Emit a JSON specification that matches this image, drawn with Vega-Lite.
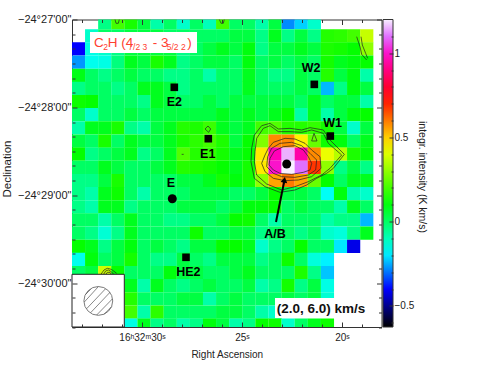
{"$schema":"https://vega.github.io/schema/vega-lite/v6.json","autosize":"none","width":309.5,"height":307.5,"padding":{"left":72,"top":19.5,"right":121.5,"bottom":40},"background":"white","config":{"view":{"stroke":"#333","strokeWidth":1},"font":"Liberation Sans","axis":{"labelFont":"Liberation Sans","titleFont":"Liberation Sans","labelColor":"#222","titleColor":"#222"}},"datasets":{"cells":[
{"c":2,"r":0,"v":-0.04},{"c":3,"r":0,"v":0.2},{"c":4,"r":0,"v":0.145},{"c":5,"r":0,"v":0.04},{"c":6,"r":0,"v":-0.08},{"c":7,"r":0,"v":0},{"c":8,"r":0,"v":-0.12},{"c":9,"r":0,"v":0},{"c":10,"r":0,"v":-0.1},{"c":11,"r":0,"v":0.2},{"c":12,"r":0,"v":0},{"c":13,"r":0,"v":0},{"c":14,"r":0,"v":-0.08},{"c":15,"r":0,"v":0.04},{"c":16,"r":0,"v":-0.28},{"c":17,"r":0,"v":-0.22},{"c":18,"r":0,"v":-0.12},
{"c":1,"r":1,"v":-0.12},{"c":2,"r":1,"v":0},{"c":3,"r":1,"v":0},{"c":4,"r":1,"v":0.04},{"c":5,"r":1,"v":0.04},{"c":6,"r":1,"v":0.04},{"c":7,"r":1,"v":0},{"c":8,"r":1,"v":0},{"c":9,"r":1,"v":0},{"c":10,"r":1,"v":0},{"c":11,"r":1,"v":0},{"c":12,"r":1,"v":0.04},{"c":13,"r":1,"v":0.04},{"c":14,"r":1,"v":-0.04},{"c":15,"r":1,"v":0.08},{"c":16,"r":1,"v":-0.04},{"c":17,"r":1,"v":0.04},{"c":18,"r":1,"v":-0.04},{"c":19,"r":1,"v":0.16},{"c":20,"r":1,"v":0.17},{"c":21,"r":1,"v":0.2},{"c":22,"r":1,"v":0.37},
{"c":0,"r":2,"v":-0.4},{"c":1,"r":2,"v":-0.15},{"c":2,"r":2,"v":-0.12},{"c":3,"r":2,"v":-0.04},{"c":4,"r":2,"v":0.04},{"c":5,"r":2,"v":0.04},{"c":6,"r":2,"v":0.04},{"c":7,"r":2,"v":0.04},{"c":8,"r":2,"v":-0.04},{"c":9,"r":2,"v":0},{"c":10,"r":2,"v":0.04},{"c":11,"r":2,"v":0.08},{"c":12,"r":2,"v":0.04},{"c":13,"r":2,"v":0.1},{"c":14,"r":2,"v":-0.04},{"c":15,"r":2,"v":0.04},{"c":16,"r":2,"v":0.04},{"c":17,"r":2,"v":0.08},{"c":18,"r":2,"v":0.04},{"c":19,"r":2,"v":0.15},{"c":20,"r":2,"v":0.14},{"c":21,"r":2,"v":0.12},{"c":22,"r":2,"v":0.3},
{"c":0,"r":3,"v":-0.27},{"c":1,"r":3,"v":-0.16},{"c":2,"r":3,"v":-0.15},{"c":3,"r":3,"v":-0.03},{"c":4,"r":3,"v":0.08},{"c":5,"r":3,"v":0.04},{"c":6,"r":3,"v":0.145},{"c":7,"r":3,"v":0.08},{"c":8,"r":3,"v":-0.04},{"c":9,"r":3,"v":0},{"c":10,"r":3,"v":0.04},{"c":11,"r":3,"v":0.04},{"c":12,"r":3,"v":0},{"c":13,"r":3,"v":0.1},{"c":14,"r":3,"v":0},{"c":15,"r":3,"v":0.04},{"c":16,"r":3,"v":0},{"c":17,"r":3,"v":0.04},{"c":18,"r":3,"v":0},{"c":19,"r":3,"v":0.14},{"c":20,"r":3,"v":0.08},{"c":21,"r":3,"v":0.1},{"c":22,"r":3,"v":0.12},
{"c":0,"r":4,"v":0.09},{"c":1,"r":4,"v":0},{"c":2,"r":4,"v":-0.04},{"c":3,"r":4,"v":0},{"c":4,"r":4,"v":0.04},{"c":5,"r":4,"v":0},{"c":6,"r":4,"v":0},{"c":7,"r":4,"v":-0.04},{"c":8,"r":4,"v":-0.04},{"c":9,"r":4,"v":0},{"c":10,"r":4,"v":-0.08},{"c":11,"r":4,"v":0},{"c":12,"r":4,"v":0},{"c":13,"r":4,"v":0.08},{"c":14,"r":4,"v":0},{"c":15,"r":4,"v":-0.04},{"c":16,"r":4,"v":-0.04},{"c":17,"r":4,"v":0.04},{"c":18,"r":4,"v":0},{"c":19,"r":4,"v":0.16},{"c":20,"r":4,"v":0.04},{"c":21,"r":4,"v":0.1},{"c":22,"r":4,"v":-0.08},
{"c":0,"r":5,"v":-0.04},{"c":1,"r":5,"v":0},{"c":2,"r":5,"v":0},{"c":3,"r":5,"v":-0.04},{"c":4,"r":5,"v":0},{"c":5,"r":5,"v":0.08},{"c":6,"r":5,"v":0.08},{"c":7,"r":5,"v":0.04},{"c":8,"r":5,"v":-0.04},{"c":9,"r":5,"v":0},{"c":10,"r":5,"v":0},{"c":11,"r":5,"v":0},{"c":12,"r":5,"v":0},{"c":13,"r":5,"v":0.08},{"c":14,"r":5,"v":0},{"c":15,"r":5,"v":0},{"c":16,"r":5,"v":0},{"c":17,"r":5,"v":0.04},{"c":18,"r":5,"v":0},{"c":19,"r":5,"v":-0.24},{"c":20,"r":5,"v":-0.04},{"c":21,"r":5,"v":0.1},{"c":22,"r":5,"v":0.04},
{"c":0,"r":6,"v":0.13},{"c":1,"r":6,"v":0.12},{"c":2,"r":6,"v":0},{"c":3,"r":6,"v":0},{"c":4,"r":6,"v":0},{"c":5,"r":6,"v":-0.04},{"c":6,"r":6,"v":0.08},{"c":7,"r":6,"v":0.04},{"c":8,"r":6,"v":0},{"c":9,"r":6,"v":0},{"c":10,"r":6,"v":0.04},{"c":11,"r":6,"v":0},{"c":12,"r":6,"v":0.04},{"c":13,"r":6,"v":0.04},{"c":14,"r":6,"v":0.04},{"c":15,"r":6,"v":0.04},{"c":16,"r":6,"v":0.04},{"c":17,"r":6,"v":0},{"c":18,"r":6,"v":0.08},{"c":19,"r":6,"v":0},{"c":20,"r":6,"v":0.04},{"c":21,"r":6,"v":0.04},{"c":22,"r":6,"v":-0.08},
{"c":0,"r":7,"v":0},{"c":1,"r":7,"v":-0.12},{"c":2,"r":7,"v":0},{"c":3,"r":7,"v":0},{"c":4,"r":7,"v":0.04},{"c":5,"r":7,"v":0},{"c":6,"r":7,"v":0.04},{"c":7,"r":7,"v":0.04},{"c":8,"r":7,"v":0.04},{"c":9,"r":7,"v":0.04},{"c":10,"r":7,"v":0.04},{"c":11,"r":7,"v":0.08},{"c":12,"r":7,"v":0.04},{"c":13,"r":7,"v":0.08},{"c":14,"r":7,"v":0.04},{"c":15,"r":7,"v":0.08},{"c":16,"r":7,"v":0.12},{"c":17,"r":7,"v":-0.08},{"c":18,"r":7,"v":0.08},{"c":19,"r":7,"v":-0.08},{"c":20,"r":7,"v":0.04},{"c":21,"r":7,"v":0.1},{"c":22,"r":7,"v":0.12},
{"c":0,"r":8,"v":-0.08},{"c":1,"r":8,"v":0.08},{"c":2,"r":8,"v":0.08},{"c":3,"r":8,"v":0.145},{"c":4,"r":8,"v":-0.04},{"c":5,"r":8,"v":-0.08},{"c":6,"r":8,"v":0.04},{"c":7,"r":8,"v":0.08},{"c":8,"r":8,"v":0.16},{"c":9,"r":8,"v":0.15},{"c":10,"r":8,"v":0.19},{"c":11,"r":8,"v":0.08},{"c":12,"r":8,"v":0.04},{"c":13,"r":8,"v":0.08},{"c":14,"r":8,"v":0.2},{"c":15,"r":8,"v":0.22},{"c":16,"r":8,"v":0.16},{"c":17,"r":8,"v":0.16},{"c":18,"r":8,"v":0.18},{"c":19,"r":8,"v":0.14},{"c":20,"r":8,"v":0.04},{"c":21,"r":8,"v":-0.12},{"c":22,"r":8,"v":0.04},
{"c":0,"r":9,"v":0.04},{"c":1,"r":9,"v":0},{"c":2,"r":9,"v":0.145},{"c":3,"r":9,"v":0},{"c":4,"r":9,"v":0.08},{"c":5,"r":9,"v":0.04},{"c":6,"r":9,"v":0.04},{"c":7,"r":9,"v":0.08},{"c":8,"r":9,"v":0.145},{"c":9,"r":9,"v":0.17},{"c":10,"r":9,"v":0.2},{"c":11,"r":9,"v":0.15},{"c":12,"r":9,"v":0.04},{"c":13,"r":9,"v":0.12},{"c":14,"r":9,"v":0.28},{"c":15,"r":9,"v":0.58},{"c":16,"r":9,"v":0.58},{"c":17,"r":9,"v":0.46},{"c":18,"r":9,"v":0.25},{"c":19,"r":9,"v":0.13},{"c":20,"r":9,"v":0.1},{"c":21,"r":9,"v":0},{"c":22,"r":9,"v":0.08},
{"c":0,"r":10,"v":0.12},{"c":1,"r":10,"v":-0.04},{"c":2,"r":10,"v":0},{"c":3,"r":10,"v":0.04},{"c":4,"r":10,"v":0.08},{"c":5,"r":10,"v":-0.04},{"c":6,"r":10,"v":0},{"c":7,"r":10,"v":0.08},{"c":8,"r":10,"v":0.22},{"c":9,"r":10,"v":0.16},{"c":10,"r":10,"v":0.18},{"c":11,"r":10,"v":0.14},{"c":12,"r":10,"v":0.08},{"c":13,"r":10,"v":0.12},{"c":14,"r":10,"v":0.47},{"c":15,"r":10,"v":0.97},{"c":16,"r":10,"v":1.15},{"c":17,"r":10,"v":0.95},{"c":18,"r":10,"v":0.58},{"c":19,"r":10,"v":0.42},{"c":20,"r":10,"v":0.35},{"c":21,"r":10,"v":0.15},{"c":22,"r":10,"v":0.1},
{"c":0,"r":11,"v":0},{"c":1,"r":11,"v":0},{"c":2,"r":11,"v":0.08},{"c":3,"r":11,"v":0.04},{"c":4,"r":11,"v":0},{"c":5,"r":11,"v":0},{"c":6,"r":11,"v":0.04},{"c":7,"r":11,"v":0.08},{"c":8,"r":11,"v":0.16},{"c":9,"r":11,"v":0.15},{"c":10,"r":11,"v":0.14},{"c":11,"r":11,"v":0.12},{"c":12,"r":11,"v":0.08},{"c":13,"r":11,"v":0.14},{"c":14,"r":11,"v":0.47},{"c":15,"r":11,"v":1},{"c":16,"r":11,"v":1.2},{"c":17,"r":11,"v":1.1},{"c":18,"r":11,"v":0.68},{"c":19,"r":11,"v":0.3},{"c":20,"r":11,"v":-0.04},{"c":21,"r":11,"v":0.04},{"c":22,"r":11,"v":-0.04},
{"c":0,"r":12,"v":-0.04},{"c":1,"r":12,"v":-0.04},{"c":2,"r":12,"v":0.04},{"c":3,"r":12,"v":0.145},{"c":4,"r":12,"v":0},{"c":5,"r":12,"v":0},{"c":6,"r":12,"v":0},{"c":7,"r":12,"v":0},{"c":8,"r":12,"v":0.04},{"c":9,"r":12,"v":0.04},{"c":10,"r":12,"v":0.08},{"c":11,"r":12,"v":0.14},{"c":12,"r":12,"v":0.1},{"c":13,"r":12,"v":0.14},{"c":14,"r":12,"v":0.3},{"c":15,"r":12,"v":0.55},{"c":16,"r":12,"v":0.6},{"c":17,"r":12,"v":0.55},{"c":18,"r":12,"v":0.25},{"c":19,"r":12,"v":0.12},{"c":20,"r":12,"v":0},{"c":21,"r":12,"v":0.08},{"c":22,"r":12,"v":0.08},
{"c":0,"r":13,"v":-0.04},{"c":1,"r":13,"v":-0.08},{"c":2,"r":13,"v":0.08},{"c":3,"r":13,"v":0.13},{"c":4,"r":13,"v":0},{"c":5,"r":13,"v":-0.08},{"c":6,"r":13,"v":0},{"c":7,"r":13,"v":0},{"c":8,"r":13,"v":0},{"c":9,"r":13,"v":0.04},{"c":10,"r":13,"v":0.04},{"c":11,"r":13,"v":0.04},{"c":12,"r":13,"v":0},{"c":13,"r":13,"v":0},{"c":14,"r":13,"v":0.04},{"c":15,"r":13,"v":0.12},{"c":16,"r":13,"v":0.04},{"c":17,"r":13,"v":0.04},{"c":18,"r":13,"v":0},{"c":19,"r":13,"v":-0.17},{"c":20,"r":13,"v":0.1},{"c":21,"r":13,"v":-0.08},{"c":22,"r":13,"v":-0.12},
{"c":0,"r":14,"v":-0.04},{"c":1,"r":14,"v":-0.08},{"c":2,"r":14,"v":0.08},{"c":3,"r":14,"v":0.08},{"c":4,"r":14,"v":-0.04},{"c":5,"r":14,"v":0},{"c":6,"r":14,"v":0},{"c":7,"r":14,"v":0},{"c":8,"r":14,"v":0.04},{"c":9,"r":14,"v":0.04},{"c":10,"r":14,"v":0.04},{"c":11,"r":14,"v":0},{"c":12,"r":14,"v":0.04},{"c":13,"r":14,"v":0.1},{"c":14,"r":14,"v":0.1},{"c":15,"r":14,"v":0.12},{"c":16,"r":14,"v":0},{"c":17,"r":14,"v":0.04},{"c":18,"r":14,"v":0},{"c":19,"r":14,"v":0},{"c":20,"r":14,"v":-0.08},{"c":21,"r":14,"v":0.08},{"c":22,"r":14,"v":0},
{"c":0,"r":15,"v":0},{"c":1,"r":15,"v":0},{"c":2,"r":15,"v":-0.08},{"c":3,"r":15,"v":0},{"c":4,"r":15,"v":0.08},{"c":5,"r":15,"v":0},{"c":6,"r":15,"v":0},{"c":7,"r":15,"v":-0.04},{"c":8,"r":15,"v":-0.04},{"c":9,"r":15,"v":0},{"c":10,"r":15,"v":0},{"c":11,"r":15,"v":0.04},{"c":12,"r":15,"v":0.12},{"c":13,"r":15,"v":0.13},{"c":14,"r":15,"v":0},{"c":15,"r":15,"v":-0.08},{"c":16,"r":15,"v":0},{"c":17,"r":15,"v":0},{"c":18,"r":15,"v":0},{"c":19,"r":15,"v":-0.08},{"c":20,"r":15,"v":-0.04},{"c":21,"r":15,"v":-0.04},{"c":22,"r":15,"v":-0.24},
{"c":0,"r":16,"v":0},{"c":1,"r":16,"v":-0.04},{"c":2,"r":16,"v":-0.13},{"c":3,"r":16,"v":-0.04},{"c":4,"r":16,"v":0.08},{"c":5,"r":16,"v":0},{"c":6,"r":16,"v":0},{"c":7,"r":16,"v":0},{"c":8,"r":16,"v":0},{"c":9,"r":16,"v":0.13},{"c":10,"r":16,"v":0},{"c":11,"r":16,"v":0},{"c":12,"r":16,"v":0.04},{"c":13,"r":16,"v":0.04},{"c":14,"r":16,"v":-0.04},{"c":15,"r":16,"v":0},{"c":16,"r":16,"v":0},{"c":17,"r":16,"v":-0.04},{"c":18,"r":16,"v":0},{"c":19,"r":16,"v":-0.12},{"c":20,"r":16,"v":-0.14},{"c":21,"r":16,"v":-0.04},{"c":22,"r":16,"v":0.08},
{"c":0,"r":17,"v":0.12},{"c":1,"r":17,"v":0.08},{"c":2,"r":17,"v":-0.04},{"c":3,"r":17,"v":0.04},{"c":4,"r":17,"v":0.1},{"c":5,"r":17,"v":0},{"c":6,"r":17,"v":0.04},{"c":7,"r":17,"v":0},{"c":8,"r":17,"v":-0.04},{"c":9,"r":17,"v":0.04},{"c":10,"r":17,"v":0.04},{"c":11,"r":17,"v":0.12},{"c":12,"r":17,"v":0.12},{"c":13,"r":17,"v":0.08},{"c":14,"r":17,"v":-0.12},{"c":15,"r":17,"v":-0.04},{"c":16,"r":17,"v":0},{"c":17,"r":17,"v":0.12},{"c":18,"r":17,"v":0},{"c":19,"r":17,"v":0},{"c":20,"r":17,"v":-0.2},{"c":21,"r":17,"v":-0.42},
{"c":0,"r":18,"v":-0.16},{"c":1,"r":18,"v":0.1},{"c":2,"r":18,"v":0},{"c":3,"r":18,"v":0.04},{"c":4,"r":18,"v":0.14},{"c":5,"r":18,"v":0},{"c":6,"r":18,"v":-0.04},{"c":7,"r":18,"v":-0.04},{"c":8,"r":18,"v":0.04},{"c":9,"r":18,"v":0},{"c":10,"r":18,"v":-0.04},{"c":11,"r":18,"v":0.04},{"c":12,"r":18,"v":0.04},{"c":13,"r":18,"v":0.04},{"c":14,"r":18,"v":-0.04},{"c":15,"r":18,"v":0},{"c":16,"r":18,"v":0.13},{"c":17,"r":18,"v":0},{"c":18,"r":18,"v":-0.14},{"c":19,"r":18,"v":-0.19},
{"c":0,"r":19,"v":0},{"c":1,"r":19,"v":0.04},{"c":2,"r":19,"v":0.38},{"c":3,"r":19,"v":0.12},{"c":4,"r":19,"v":0},{"c":5,"r":19,"v":0},{"c":6,"r":19,"v":0},{"c":7,"r":19,"v":0.1},{"c":8,"r":19,"v":0.04},{"c":9,"r":19,"v":0.04},{"c":10,"r":19,"v":0},{"c":11,"r":19,"v":0},{"c":12,"r":19,"v":0.04},{"c":13,"r":19,"v":0.08},{"c":14,"r":19,"v":0},{"c":15,"r":19,"v":0},{"c":16,"r":19,"v":0},{"c":17,"r":19,"v":0.15},{"c":18,"r":19,"v":-0.04},{"c":19,"r":19,"v":-0.23},
{"c":4,"r":20,"v":0.08},{"c":5,"r":20,"v":-0.08},{"c":6,"r":20,"v":0.08},{"c":7,"r":20,"v":0},{"c":8,"r":20,"v":-0.04},{"c":9,"r":20,"v":0},{"c":10,"r":20,"v":0.04},{"c":11,"r":20,"v":0},{"c":12,"r":20,"v":0},{"c":13,"r":20,"v":0.04},{"c":14,"r":20,"v":-0.08},{"c":15,"r":20,"v":-0.04},{"c":16,"r":20,"v":0.14},{"c":17,"r":20,"v":-0.04},{"c":18,"r":20,"v":0.04},{"c":19,"r":20,"v":-0.15},
{"c":4,"r":21,"v":0.16},{"c":5,"r":21,"v":0},{"c":6,"r":21,"v":0},{"c":7,"r":21,"v":0},{"c":8,"r":21,"v":0.04},{"c":9,"r":21,"v":0.04},{"c":10,"r":21,"v":-0.08},{"c":11,"r":21,"v":0},{"c":12,"r":21,"v":0.04},{"c":13,"r":21,"v":0},{"c":14,"r":21,"v":0},{"c":15,"r":21,"v":0},{"c":16,"r":21,"v":0.04},{"c":17,"r":21,"v":0},{"c":18,"r":21,"v":0.04},{"c":19,"r":21,"v":-0.13},
{"c":4,"r":22,"v":0.2},{"c":5,"r":22,"v":-0.08},{"c":6,"r":22,"v":0.17},{"c":7,"r":22,"v":0},{"c":8,"r":22,"v":0},{"c":9,"r":22,"v":0},{"c":10,"r":22,"v":0},{"c":11,"r":22,"v":0.04},{"c":12,"r":22,"v":0.04},{"c":13,"r":22,"v":0},{"c":14,"r":22,"v":-0.08},{"c":15,"r":22,"v":-0.12},
{"c":4,"r":23,"v":-0.15},{"c":5,"r":23,"v":0.08},{"c":6,"r":23,"v":-0.04},{"c":7,"r":23,"v":0},{"c":8,"r":23,"v":-0.08},{"c":9,"r":23,"v":-0.04},{"c":10,"r":23,"v":0.1},{"c":11,"r":23,"v":0.04},{"c":12,"r":23,"v":-0.08},{"c":13,"r":23,"v":-0.04},{"c":14,"r":23,"v":0.12},{"c":15,"r":23,"v":0.13},{"c":16,"r":23,"v":-0.12},{"c":17,"r":23,"v":0},{"c":18,"r":23,"v":0.08},{"c":19,"r":23,"v":0.13}
],"contours":[
{"g":"a","o":0,"ra":24.517,"dec":-87.98},{"g":"a","o":1,"ra":24.383,"dec":-78.88},{"g":"a","o":2,"ra":24.017,"dec":-72.5},{"g":"a","o":3,"ra":23.6,"dec":-70.91},{"g":"a","o":4,"ra":23.183,"dec":-74.78},{"g":"a","o":5,"ra":22.6,"dec":-74.33},{"g":"a","o":6,"ra":22.017,"dec":-75.46},{"g":"a","o":7,"ra":21.6,"dec":-73.87},{"g":"a","o":8,"ra":20.933,"dec":-75.46},{"g":"a","o":9,"ra":20.6,"dec":-82.29},{"g":"a","o":10,"ra":19.883,"dec":-92.08},{"g":"a","o":11,"ra":20.433,"dec":-101.64},{"g":"a","o":12,"ra":20.767,"dec":-105.06},{"g":"a","o":13,"ra":21.267,"dec":-108.47},{"g":"a","o":14,"ra":21.767,"dec":-113.02},{"g":"a","o":15,"ra":22.35,"dec":-116.44},{"g":"a","o":16,"ra":23.1,"dec":-118.03},{"g":"a","o":17,"ra":23.85,"dec":-114.16},{"g":"a","o":18,"ra":24.383,"dec":-108.47},{"g":"a","o":19,"ra":24.55,"dec":-97.09},{"g":"a","o":20,"ra":24.517,"dec":-87.98},
{"g":"b","o":0,"ra":24.35,"dec":-90.26},{"g":"b","o":1,"ra":24.267,"dec":-81.15},{"g":"b","o":2,"ra":23.933,"dec":-74.33},{"g":"b","o":3,"ra":23.6,"dec":-72.5},{"g":"b","o":4,"ra":23.183,"dec":-76.6},{"g":"b","o":5,"ra":22.6,"dec":-76.6},{"g":"b","o":6,"ra":22.017,"dec":-77.06},{"g":"b","o":7,"ra":21.517,"dec":-75.46},{"g":"b","o":8,"ra":20.933,"dec":-77.74},{"g":"b","o":9,"ra":20.683,"dec":-84.57},{"g":"b","o":10,"ra":20.017,"dec":-92.54},{"g":"b","o":11,"ra":20.6,"dec":-101.64},{"g":"b","o":12,"ra":21.017,"dec":-106.2},{"g":"b","o":13,"ra":21.683,"dec":-110.75},{"g":"b","o":14,"ra":22.35,"dec":-114.16},{"g":"b","o":15,"ra":23.017,"dec":-116.44},{"g":"b","o":16,"ra":23.767,"dec":-112.34},{"g":"b","o":17,"ra":24.267,"dec":-106.2},{"g":"b","o":18,"ra":24.383,"dec":-97.09},{"g":"b","o":19,"ra":24.35,"dec":-90.26},
{"g":"c","o":0,"ra":23.85,"dec":-92.54},{"g":"c","o":1,"ra":23.683,"dec":-87.98},{"g":"c","o":2,"ra":23.433,"dec":-83.89},{"g":"c","o":3,"ra":22.85,"dec":-81.15},{"g":"c","o":4,"ra":22.35,"dec":-81.61},{"g":"c","o":5,"ra":21.85,"dec":-84.57},{"g":"c","o":6,"ra":21.517,"dec":-89.12},{"g":"c","o":7,"ra":21.1,"dec":-93.68},{"g":"c","o":8,"ra":21.05,"dec":-101.64},{"g":"c","o":9,"ra":21.517,"dec":-107.33},{"g":"c","o":10,"ra":22.183,"dec":-109.61},{"g":"c","o":11,"ra":22.85,"dec":-110.06},{"g":"c","o":12,"ra":23.433,"dec":-108.47},{"g":"c","o":13,"ra":23.85,"dec":-103.92},{"g":"c","o":14,"ra":24.017,"dec":-98.23},{"g":"c","o":15,"ra":23.85,"dec":-92.54},
{"g":"d","o":0,"ra":23.717,"dec":-93.68},{"g":"d","o":1,"ra":23.517,"dec":-87.98},{"g":"d","o":2,"ra":23.1,"dec":-84.57},{"g":"d","o":3,"ra":22.517,"dec":-83.89},{"g":"d","o":4,"ra":22.017,"dec":-86.16},{"g":"d","o":5,"ra":21.6,"dec":-91.4},{"g":"d","o":6,"ra":21.267,"dec":-95.95},{"g":"d","o":7,"ra":21.317,"dec":-102.78},{"g":"d","o":8,"ra":21.683,"dec":-106.2},{"g":"d","o":9,"ra":22.35,"dec":-107.79},{"g":"d","o":10,"ra":23.017,"dec":-107.33},{"g":"d","o":11,"ra":23.433,"dec":-105.06},{"g":"d","o":12,"ra":23.767,"dec":-100.5},{"g":"d","o":13,"ra":23.717,"dec":-93.68},
{"g":"e","o":0,"ra":23.6,"dec":-94.81},{"g":"e","o":1,"ra":23.383,"dec":-89.8},{"g":"e","o":2,"ra":22.933,"dec":-86.85},{"g":"e","o":3,"ra":22.35,"dec":-86.16},{"g":"e","o":4,"ra":21.933,"dec":-89.12},{"g":"e","o":5,"ra":21.683,"dec":-93.68},{"g":"e","o":6,"ra":21.517,"dec":-98.23},{"g":"e","o":7,"ra":21.6,"dec":-102.78},{"g":"e","o":8,"ra":21.933,"dec":-104.37},{"g":"e","o":9,"ra":22.517,"dec":-105.74},{"g":"e","o":10,"ra":23.1,"dec":-105.06},{"g":"e","o":11,"ra":23.433,"dec":-102.78},{"g":"e","o":12,"ra":23.65,"dec":-99.37},{"g":"e","o":13,"ra":23.6,"dec":-94.81},
{"g":"f","o":0,"ra":21.4,"dec":-77.74},{"g":"f","o":1,"ra":21.517,"dec":-82.98},{"g":"f","o":2,"ra":21.25,"dec":-82.98},{"g":"f","o":3,"ra":21.4,"dec":-77.74},
{"g":"h","o":0,"ra":32.067,"dec":-174.26},{"g":"h","o":1,"ra":31.9,"dec":-171.07},{"g":"h","o":2,"ra":31.733,"dec":-169.93},{"g":"h","o":3,"ra":31.533,"dec":-170.61},{"g":"h","o":4,"ra":31.267,"dec":-173.35},
{"g":"i","o":0,"ra":31.933,"dec":-174.26},{"g":"i","o":1,"ra":31.817,"dec":-171.75},{"g":"i","o":2,"ra":31.683,"dec":-171.07},{"g":"i","o":3,"ra":31.533,"dec":-172.21},{"g":"i","o":4,"ra":31.4,"dec":-174.26},
{"g":"j","o":0,"ra":31.817,"dec":-174.26},{"g":"j","o":1,"ra":31.733,"dec":-172.66},{"g":"j","o":2,"ra":31.6,"dec":-172.66},{"g":"j","o":3,"ra":31.533,"dec":-174.26},
{"g":"k","o":0,"ra":19.267,"dec":-11.73},{"g":"k","o":1,"ra":19.1,"dec":-18.56},{"g":"k","o":2,"ra":19.017,"dec":-23.79},{"g":"k","o":3,"ra":18.767,"dec":-27.66},
{"g":"l","o":0,"ra":19.05,"dec":-11.73},{"g":"l","o":1,"ra":18.983,"dec":-17.42},{"g":"l","o":2,"ra":18.817,"dec":-23.11},{"g":"l","o":3,"ra":18.717,"dec":-26.52},
{"g":"m","o":0,"ra":31.35,"dec":0.12},{"g":"m","o":1,"ra":31.3,"dec":-2.6},{"g":"m","o":2,"ra":31.183,"dec":-2.6},{"g":"m","o":3,"ra":31.133,"dec":0.12},
{"g":"n","o":0,"ra":26.133,"dec":0.12},{"g":"n","o":1,"ra":26.05,"dec":-2.6},{"g":"n","o":2,"ra":25.933,"dec":-2.6},{"g":"n","o":3,"ra":25.883,"dec":0.12},
{"g":"p","o":0,"ra":26.85,"dec":-74.78},{"g":"p","o":1,"ra":26.7,"dec":-72.73},{"g":"p","o":2,"ra":26.567,"dec":-74.78},{"g":"p","o":3,"ra":26.667,"dec":-77.06},{"g":"p","o":4,"ra":26.85,"dec":-74.78},
{"g":"q","o":0,"ra":28.017,"dec":-92.08},{"g":"q","o":1,"ra":27.917,"dec":-92.08}
],"hatch":[
{"g":1,"o":0,"ra":32.817,"dec":-187.69},{"g":1,"o":1,"ra":32.567,"dec":-184.27},{"g":2,"o":0,"ra":32.883,"dec":-192.92},{"g":2,"o":1,"ra":32.183,"dec":-182.45},{"g":3,"o":0,"ra":32.767,"dec":-197.48},{"g":3,"o":1,"ra":31.833,"dec":-184.04},{"g":4,"o":0,"ra":32.567,"dec":-200.21},{"g":4,"o":1,"ra":31.6,"dec":-186.32},{"g":5,"o":0,"ra":32.267,"dec":-201.8},{"g":5,"o":1,"ra":31.483,"dec":-190.87},{"g":6,"o":0,"ra":31.9,"dec":-201.35},{"g":6,"o":1,"ra":31.517,"dec":-196.11}
]},
"layer":[
{"data":{"name":"cells"},"mark":{"type":"rect","width":13.2,"height":13.25,"clip":true},"encoding":{"x":{"field":"c","type":"quantitative","axis":null,"scale":{"domain":[-0.5,23.126],"nice":false,"zero":false}},"y":{"field":"r","type":"quantitative","axis":null,"scale":{"domain":[23.14,-0.243],"nice":false,"zero":false}},"color":{"field":"v","type":"quantitative","scale":{"domain":[-0.625,-0.4,-0.18,0.115,0.445,0.74,0.98,1.1,1.2],"range":["#000000","#0000ff","#00ffff","#00ff00","#ffff00","#ff0000","#ff00c0","#e070ff","#f8f0ff"],"interpolate":"rgb"},"legend":{"orient":"none","legendX":311,"legendY":0,"direction":"vertical","type":"gradient","gradientLength":307.5,"gradientThickness":10,"title":null,"labelExpr":"''","tickCount":90,"gradientStrokeColor":"#333","gradientStrokeWidth":1}}}},
{"encoding":{"x":{"field":"ra","type":"quantitative","scale":{"domain":[33.5,18.025],"nice":false,"zero":false},"axis":{"orient":"bottom","values":[19,20,21,22,23,24,25,26,27,28,29,30,31,32,33],"domain":false,"grid":false,"labelExpr":"datum.value==30?'16ʰ32ᵐ30ˢ':datum.value==25?'25ˢ':datum.value==20?'20ˢ':''","labelFontSize":10,"labelPadding":10,"labelOverlap":false,"labelFlush":false,"tickColor":"#333","tickSize":{"condition":{"test":"datum.value % 5 === 0","value":-5},"value":-3},"title":"Right Ascension","titleFontSize":10,"titleFontWeight":"normal","titleY":22,"zindex":1}},"y":{"field":"dec","type":"quantitative","scale":{"domain":[-210,0],"nice":false,"zero":false},"axis":{"orient":"left","values":[-210,-200,-190,-180,-170,-160,-150,-140,-130,-120,-110,-100,-90,-80,-70,-60,-50,-40,-30,-20,-10,0],"domain":false,"grid":false,"labelExpr":"datum.value % 60 === 0 ? '−24°'+(27-datum.value/60)+'\\'00\"' : ''","labelFontSize":11,"labelPadding":6,"labelOverlap":false,"labelFlush":false,"tickColor":"#333","tickSize":{"condition":{"test":"datum.value % 60 === 0","value":-5},"value":-3},"title":"Declination","titleFontSize":11.5,"titleFontWeight":"normal","titleX":-60,"titleY":149,"zindex":1}}},
"layer":[
{"data":{"name":"contours"},"mark":{"type":"line","color":"#222","strokeWidth":0.7,"clip":true},"encoding":{"detail":{"field":"g"},"order":{"field":"o"}}},
{"data":{"values":[{"ra":32.6,"ra2":27.25,"dec":-8.5,"dec2":-22.9},{"ra":23.35,"ra2":18.4,"dec":-190.2,"dec2":-203.8}]},"mark":{"type":"rect","color":"white"},"encoding":{"x2":{"field":"ra2"},"y2":{"field":"dec2"}}},
{"data":{"values":[{"ra":33.5,"ra2":30.885,"dec":-174,"dec2":-210}]},"mark":{"type":"rect","fill":"white","stroke":"#222","strokeWidth":1},"encoding":{"x2":{"field":"ra2"},"y2":{"field":"dec2"}}},
{"data":{"name":"hatch"},"mark":{"type":"line","color":"#555","strokeWidth":0.7},"encoding":{"detail":{"field":"g"},"order":{"field":"o"}}},
{"data":{"values":[{"ra":32.185,"dec":-192.2}]},"mark":{"type":"point","shape":"circle","size":830,"filled":false,"color":"#444","strokeWidth":1}},
{"data":{"values":[{"ra":28.385,"dec":-46.3},{"ra":26.685,"dec":-81.4},{"ra":27.8,"dec":-162.4},{"ra":21.385,"dec":-44.3},{"ra":20.585,"dec":-79.6}]},"mark":{"type":"point","shape":"square","filled":true,"size":58,"color":"black","opacity":1}},
{"data":{"values":[{"ra":28.485,"dec":-122.4},{"ra":22.765,"dec":-98.7}]},"mark":{"type":"point","shape":"circle","filled":true,"size":80,"color":"black","opacity":1}},
{"data":{"values":[{"o":0,"ra":23.3,"dec":-138.3},{"o":1,"ra":22.88,"dec":-110}]},"mark":{"type":"line","color":"black","strokeWidth":2},"encoding":{"order":{"field":"o"}}},
{"data":{"values":[{"ra":22.88,"dec":-109.5}]},"mark":{"type":"point","shape":"triangle-up","angle":10,"filled":true,"size":45,"color":"black","opacity":1}},
{"data":{"values":[{"ra":28.385,"dec":-56.1,"t":"E2"},{"ra":26.715,"dec":-91.8,"t":"E1"},{"ra":28.55,"dec":-111.9,"t":"E"},{"ra":27.685,"dec":-172.6,"t":"HE2"},{"ra":21.55,"dec":-33.3,"t":"W2"},{"ra":20.465,"dec":-70.9,"t":"W1"},{"ra":23.35,"dec":-146.7,"t":"A/B"}]},"mark":{"type":"text","font":"Liberation Sans","fontWeight":"bold","fontSize":12.5,"color":"black","align":"center","baseline":"middle"},"encoding":{"text":{"field":"t"}}},
{"data":{"values":[{"ra":21.05,"dec":-197.7,"t":"(2.0, 6.0) km/s"}]},"mark":{"type":"text","font":"Liberation Sans","fontWeight":"bold","fontSize":13.5,"color":"#111","align":"center","baseline":"middle"},"encoding":{"text":{"field":"t"}}},
{"data":{"values":[{"ra":32.4,"dec":-18.8,"t":"C"},{"ra":31.715,"dec":-18.8,"t":"H (4"},{"ra":29.465,"dec":-18.8,"t":"- 3"},{"ra":27.735,"dec":-18.8,"t":")"}]},"mark":{"type":"text","font":"Liberation Sans","fontSize":13.5,"color":"#ff4030","align":"left","baseline":"alphabetic"},"encoding":{"text":{"field":"t"}}},
{"data":{"values":[{"ra":31.935,"dec":-20.8,"t":"2"},{"ra":30.685,"dec":-20.8,"t":"7/2 3"},{"ra":28.765,"dec":-20.8,"t":"5/2 2"}]},"mark":{"type":"text","font":"Liberation Sans","fontSize":8.5,"color":"#ff4030","align":"left","baseline":"alphabetic"},"encoding":{"text":{"field":"t"}}}
]},
{"data":{"values":[{"ra":25,"dec":-100}]},"mark":{"type":"point","opacity":0},"encoding":{"x":{"field":"ra","type":"quantitative","scale":{"domain":[33.5,18.025],"nice":false,"zero":false},"axis":{"orient":"top","values":[19,20,21,22,23,24,25,26,27,28,29,30,31,32,33],"domain":false,"grid":false,"labels":false,"title":null,"tickColor":"#333","tickSize":{"condition":{"test":"datum.value % 5 === 0","value":-5},"value":-3},"zindex":1}},"y":{"field":"dec","type":"quantitative","scale":{"domain":[-210,0],"nice":false,"zero":false},"axis":{"orient":"right","values":[-210,-200,-190,-180,-170,-160,-150,-140,-130,-120,-110,-100,-90,-80,-70,-60,-50,-40,-30,-20,-10,0],"domain":false,"grid":false,"labels":false,"title":null,"tickColor":"#333","tickSize":{"condition":{"test":"datum.value % 60 === 0","value":-5},"value":-3},"zindex":1}}}},
{"data":{"values":[{"level":0.73},{"level":0.585},{"level":0.44},{"level":0.29},{"level":0.22}]},"mark":{"type":"rule","color":"#222","strokeWidth":0.8},"encoding":{"x":{"datum":0,"type":"quantitative","scale":{"domain":[0,1],"range":[311,321]},"axis":null},"x2":{"datum":1},"y":{"field":"level","type":"quantitative","scale":{"domain":[-0.625,1.2],"nice":false,"zero":false},"axis":{"orient":"right","offset":11.5,"values":[-0.6,-0.5,-0.4,-0.3,-0.2,-0.1,0,0.1,0.2,0.3,0.4,0.5,0.6,0.7,0.8,0.9,1,1.1],"domain":false,"grid":false,"labelExpr":"datum.value===-0.5?'−0.5':datum.value===0?'0':datum.value===0.5?'0.5':datum.value===1?'1':''","labelFontSize":10,"labelPadding":5,"labelOverlap":false,"labelFlush":false,"tickColor":"#333","tickSize":{"condition":{"test":"datum.value === -0.5 || datum.value === 0 || datum.value === 0.5 || datum.value === 1","value":-4},"value":-2},"title":"integr. intensity (K km/s)","titleFontSize":10.5,"titleFontWeight":"normal","titleAngle":90,"titleX":23,"titleY":157,"zindex":1}}}}
],"resolve":{"scale":{"x":"independent","y":"independent","color":"independent"},"axis":{"x":"independent","y":"independent"}}}
